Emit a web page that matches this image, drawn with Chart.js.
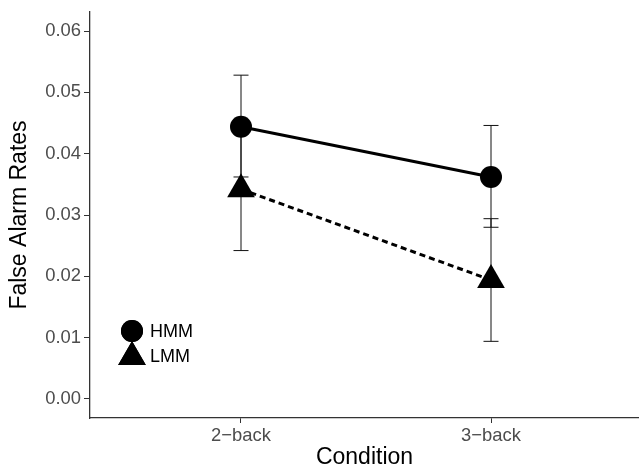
<!DOCTYPE html>
<html>
<head>
<meta charset="utf-8">
<script src="https://cdn.jsdelivr.net/npm/chart.js@4/dist/chart.umd.min.js"></script>
<style>
  body { margin: 0; background: #fff; }
  #wrap { width: 639px; height: 467px; }
</style>
</head>
<body>
<div id="wrap"><canvas id="grafico" width="639" height="467"></canvas></div>
<script>
// Dados
const condicoes = ['2\u2212back', '3\u2212back'];
const yTicks = [0, 0.01, 0.02, 0.03, 0.04, 0.05, 0.06];

const hmmMedia = [0.0444, 0.0362];
const hmmInf = [0.0362, 0.0280];
const hmmSup = [0.0528, 0.0446];

const lmmMedia = [0.0342, 0.0194];
const lmmInf = [0.0242, 0.0094];
const lmmSup = [0.0442, 0.0294];

const grupos = ['HMM', 'LMM'];

const pontos = arr => arr.map((v, i) => ({ x: i + 1, y: v }));

// Barras de erro
const barrasErro = {
  id: 'barrasErro',
  beforeDatasetsDraw(chart) {
    const { ctx, scales: { x, y } } = chart;
    const series = [[hmmInf, hmmSup], [lmmInf, lmmSup]];
    ctx.save();
    ctx.strokeStyle = '#111';
    ctx.lineWidth = 1;
    series.forEach(([inf, sup]) => {
      inf.forEach((v, i) => {
        const px = x.getPixelForValue(i + 1);
        const y0 = y.getPixelForValue(v);
        const y1 = y.getPixelForValue(sup[i]);
        ctx.beginPath();
        ctx.moveTo(px, y0); ctx.lineTo(px, y1);
        ctx.moveTo(px - 7.5, y0); ctx.lineTo(px + 7.5, y0);
        ctx.moveTo(px - 7.5, y1); ctx.lineTo(px + 7.5, y1);
        ctx.stroke();
      });
    });
    ctx.restore();
  }
};

// Legenda dentro do gráfico
const legendaInterna = {
  id: 'legendaInterna',
  afterDraw(chart) {
    const { ctx, chartArea } = chart;
    const lx = chartArea.left + 42;
    const estilos = [['circle', 11, chartArea.top + 319], ['triangle', 16, chartArea.top + 345]];
    ctx.save();
    ctx.fillStyle = '#000';
    ctx.strokeStyle = '#000';
    estilos.forEach(([estilo, r, ly]) => {
      Chart.helpers.drawPoint(ctx, { pointStyle: estilo, radius: r, borderWidth: 0 }, lx, ly);
      ctx.fill();
    });
    ctx.font = '18px "Liberation Sans", Arial, sans-serif';
    ctx.textBaseline = 'middle';
    ctx.fillText(grupos[0], chartArea.left + 60, chartArea.top + 320);
    ctx.fillText(grupos[1], chartArea.left + 60, chartArea.top + 345);
    ctx.restore();
  }
};

const fonte = '"Liberation Sans", Arial, sans-serif';

new Chart(document.getElementById('grafico'), {
  type: 'line',
  data: {
    datasets: [{
      label: grupos[0],
      data: pontos(hmmMedia),
      borderColor: '#000',
      backgroundColor: '#000',
      borderWidth: 3,
      pointStyle: 'circle',
      pointRadius: 11,
      pointBorderWidth: 0,
      pointBackgroundColor: '#000'
    }, {
      label: grupos[1],
      data: pontos(lmmMedia),
      borderColor: '#000',
      backgroundColor: '#000',
      borderWidth: 3,
      borderDash: [6, 4],
      pointStyle: 'triangle',
      pointRadius: 16,
      pointBorderWidth: 0,
      pointBackgroundColor: '#000'
    }]
  },
  options: {
    responsive: false,
    animation: false,
    layout: { autoPadding: false, padding: { top: 12, right: 0, left: 0, bottom: 0 } },
    plugins: {
      legend: { display: false },
      tooltip: { enabled: false }
    },
    scales: {
      x: {
        type: 'linear',
        min: 0.396,
        max: 2.592,
        afterBuildTicks: s => { s.ticks = condicoes.map((c, i) => ({ value: i + 1 })); },
        afterFit: s => { s.height = 49; s.paddingLeft = 0; s.paddingRight = 0; },
        ticks: {
          callback: v => condicoes[v - 1],
          color: '#4d4d4d',
          font: { family: fonte, size: 18.4 },
          padding: 2,
          maxRotation: 0
        },
        grid: { drawOnChartArea: false, tickLength: 5, tickColor: '#333', tickWidth: 1 },
        border: { display: true, color: '#333', width: 1.3 },
        title: {
          display: true,
          text: 'Condition',
          color: '#000',
          font: { family: fonte, size: 23, lineHeight: 1 },
          padding: { top: 0, bottom: -2 }
        }
      },
      y: {
        min: -0.0031,
        max: 0.0631,
        afterBuildTicks: s => { s.ticks = yTicks.map(v => ({ value: v })); },
        afterFit: s => { s.width = 90; s.paddingTop = 0; s.paddingBottom = 0; },
        ticks: {
          callback: v => v.toFixed(2),
          color: '#4d4d4d',
          font: { family: fonte, size: 18.4 },
          padding: 3
        },
        grid: { drawOnChartArea: false, tickLength: 6, tickColor: '#333', tickWidth: 1 },
        border: { display: true, color: '#333', width: 1.3 },
        title: {
          display: true,
          text: 'False Alarm Rates',
          color: '#000',
          font: { family: fonte, size: 23, lineHeight: 1 },
          padding: { top: 8, bottom: 0 }
        }
      }
    }
  },
  plugins: [barrasErro, legendaInterna]
});
</script>
</body>
</html>
